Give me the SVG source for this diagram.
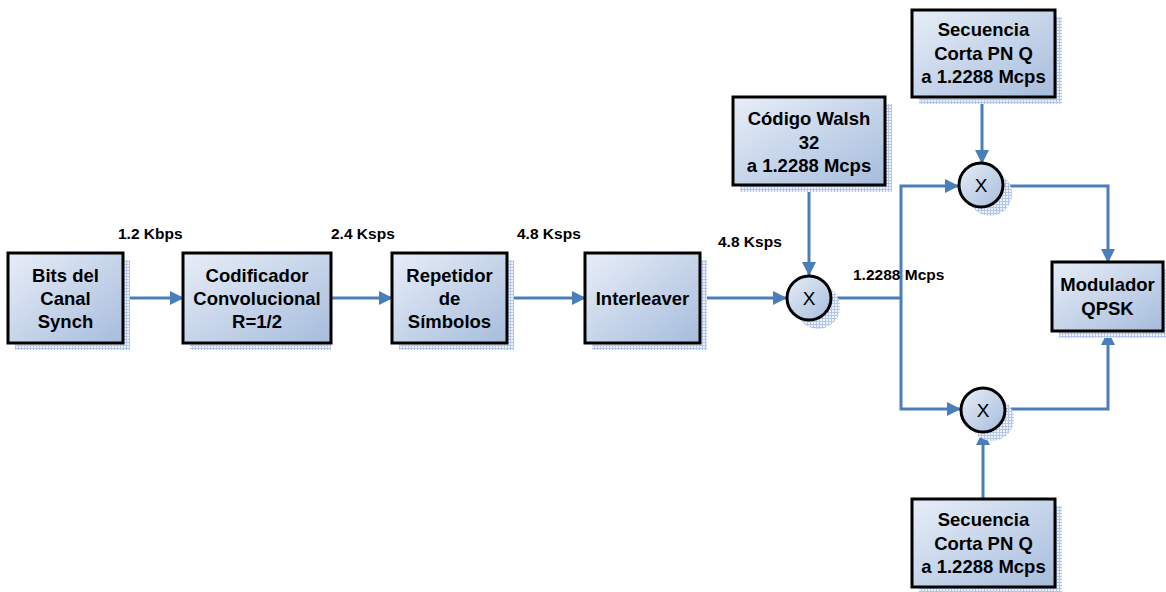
<svg xmlns="http://www.w3.org/2000/svg" width="1166" height="592" viewBox="0 0 1166 592">
  <defs>
    <linearGradient id="fill" x1="0" y1="0" x2="1" y2="1">
      <stop offset="0" stop-color="#e8eef8"/>
      <stop offset="1" stop-color="#a6bcdc"/>
    </linearGradient>
    <pattern id="hatch" width="3" height="3" patternUnits="userSpaceOnUse">
      <rect width="3" height="3" fill="#eef2fa"/>
      <path d="M0 0.5H3M0.5 0V3" stroke="#b3c6e8" stroke-width="1"/>
    </pattern>
    <marker id="arrow" viewBox="0 0 14 14" refX="13" refY="7" markerWidth="14" markerHeight="14" markerUnits="userSpaceOnUse" orient="auto">
      <path d="M0 0L14 7L0 14Z" fill="#4a7ebb"/>
    </marker>
  </defs>
  <style>
    .shadow { fill: url(#hatch); }
    .box { fill: url(#fill); stroke: #000; stroke-width: 3; }
    .txt { font-family: "Liberation Sans", Arial, sans-serif; font-weight: bold; font-size: 18.5px; fill: #000; text-anchor: middle; }
    .x { font-family: "Liberation Sans", Arial, sans-serif; font-size: 19px; fill: #000; text-anchor: middle; }
    .rate { font-family: "Liberation Sans", Arial, sans-serif; font-weight: bold; font-size: 15.5px; fill: #000; }
    .wire { fill: none; stroke: #4a7ebb; stroke-width: 3; }
    .arr { marker-end: url(#arrow); }
  </style>
  <rect width="1166" height="592" fill="#fff"/>

  <!-- connectors -->
  <g id="connectors">
    <line class="wire arr" x1="123" y1="298" x2="183" y2="298"/>
    <line class="wire arr" x1="331" y1="298" x2="392" y2="298"/>
    <line class="wire arr" x1="507" y1="298" x2="585" y2="298"/>
    <line class="wire arr" x1="701" y1="298" x2="786" y2="298"/>
    <line class="wire arr" x1="809" y1="186" x2="809" y2="275"/>
    <polyline class="wire" points="832,298 901,298"/>
    <polyline class="wire arr" points="901,298 901,186 958,186"/>
    <polyline class="wire arr" points="901,298 901,409 960,409"/>
    <line class="wire arr" x1="982" y1="97" x2="982" y2="163"/>
    <line class="wire arr" x1="983" y1="499" x2="983" y2="432"/>
    <polyline class="wire arr" points="1004,186 1108,186 1108,262"/>
    <polyline class="wire arr" points="1006,409 1108,409 1108,332"/>
  </g>

  <!-- rate labels -->
  <g id="labels">
    <text class="rate" x="118" y="239">1.2 Kbps</text>
    <text class="rate" x="331" y="239">2.4 Ksps</text>
    <text class="rate" x="517" y="239">4.8 Ksps</text>
    <text class="rate" x="718" y="247">4.8 Ksps</text>
    <text class="rate" x="853" y="280">1.2288 Mcps</text>
  </g>

  <g id="bits">
    <rect class="shadow" x="15" y="260" width="115" height="90"/>
    <rect class="box" x="8" y="253" width="115" height="90"/>
    <text class="txt" x="65.5" y="282">Bits del<tspan x="65.5" dy="23">Canal</tspan><tspan x="65.5" dy="22.5">Synch</tspan></text>
  </g>

  <g id="codificador">
    <rect class="shadow" x="190" y="260" width="141" height="90"/>
    <rect class="box" x="183" y="253" width="148" height="90"/>
    <text class="txt" x="257" y="282">Codificador<tspan x="257" dy="23">Convolucional</tspan><tspan x="257" dy="22.5">R=1/2</tspan></text>
  </g>

  <g id="repetidor">
    <rect class="shadow" x="399" y="260" width="115" height="90"/>
    <rect class="box" x="392" y="253" width="115" height="90"/>
    <text class="txt" x="449.5" y="282">Repetidor<tspan x="449.5" dy="23">de</tspan><tspan x="449.5" dy="22.5">Símbolos</tspan></text>
  </g>

  <g id="interleaver">
    <rect class="shadow" x="592" y="260" width="115" height="90"/>
    <rect class="box" x="585" y="253" width="115" height="90"/>
    <text class="txt" x="642.5" y="305">Interleaver</text>
  </g>

  <g id="walsh">
    <rect class="shadow" x="740" y="104" width="152" height="88"/>
    <rect class="box" x="733" y="97" width="152" height="88"/>
    <text class="txt" x="809" y="125">Código Walsh<tspan x="809" dy="23.5">32</tspan><tspan x="809" dy="23.5">a 1.2288 Mcps</tspan></text>
  </g>

  <g id="pn-top">
    <rect class="shadow" x="919" y="17" width="143" height="87"/>
    <rect class="box" x="912" y="10" width="143" height="87"/>
    <text class="txt" x="983.5" y="36">Secuencia<tspan x="983.5" dy="23.5">Corta PN Q</tspan><tspan x="983.5" dy="23.5">a 1.2288 Mcps</tspan></text>
  </g>

  <g id="pn-bottom">
    <rect class="shadow" x="919" y="506" width="143" height="86"/>
    <rect class="box" x="912" y="499" width="143" height="88"/>
    <text class="txt" x="983.5" y="526">Secuencia<tspan x="983.5" dy="23.5">Corta PN Q</tspan><tspan x="983.5" dy="23.5">a 1.2288 Mcps</tspan></text>
  </g>

  <g id="modulador">
    <rect class="shadow" x="1059" y="269" width="107" height="69"/>
    <rect class="box" x="1052" y="262" width="111" height="69"/>
    <text class="txt" x="1107.5" y="291">Modulador<tspan x="1107.5" dy="23.5">QPSK</tspan></text>
  </g>

  <g id="mult-1">
    <circle class="shadow" cx="818" cy="307" r="22"/>
    <circle class="box" cx="809" cy="298" r="22"/>
    <text class="x" x="809" y="305">X</text>
  </g>

  <g id="mult-top">
    <circle class="shadow" cx="990" cy="194" r="22"/>
    <circle class="box" cx="981" cy="185" r="22"/>
    <text class="x" x="981" y="192">X</text>
  </g>

  <g id="mult-bottom">
    <circle class="shadow" cx="992" cy="419" r="22"/>
    <circle class="box" cx="983" cy="410" r="22"/>
    <text class="x" x="983" y="417">X</text>
  </g>
</svg>
